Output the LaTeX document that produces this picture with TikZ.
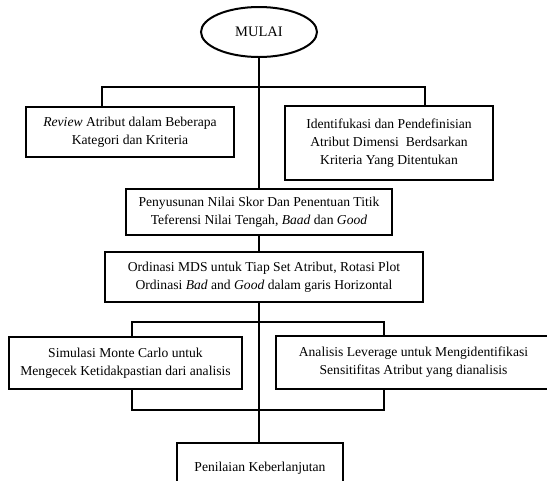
\documentclass[tikz,border=0pt]{standalone}
\usepackage{fontspec}
\setmainfont{Liberation Serif}
\usetikzlibrary{shapes.geometric,backgrounds}
\begin{document}
\begin{tikzpicture}[x=1pt,y=-1pt,
  box/.style={draw=black,line width=2pt,fill=white,inner sep=0pt,align=center,
    font=\fontsize{13.6}{18}\selectfont},
  conn/.style={draw=black,line width=2pt},
  oval/.style={ellipse,draw=black,line width=2pt,fill=white,inner sep=0pt,
    minimum width=116pt,minimum height=50pt,font=\fontsize{14.5}{18}\selectfont}]
\useasboundingbox (0,0) rectangle (547,480);
\node[oval] (mulai) at (259,32) {MULAI};
\node[box,minimum width=208pt,minimum height=50pt] (review) at (130,132)
  {\textit{Review} Atribut dalam Beberapa\\Kategori dan Kriteria};
\node[box,minimum width=208pt,minimum height=74pt] (ident) at (389,143)
  {Identifukasi dan Pendefinisian\\Atribut Dimensi\ \ Berdsarkan\\Kriteria Yang Ditentukan};
\node[box,minimum width=266pt,minimum height=46pt] (skor) at (259,212)
  {Penyusunan Nilai Skor Dan Penentuan Titik\\Teferensi Nilai Tengah, \textit{Baad} dan \textit{Good}};
\node[box,minimum width=318pt,minimum height=50pt] (mds) at (264,277)
  {Ordinasi MDS untuk Tiap Set Atribut, Rotasi Plot\\Ordinasi \textit{Bad} and \textit{Good} dalam garis Horizontal};
\node[box,minimum width=233pt,minimum height=52pt] (monte) at (125.5,363)
  {Simulasi Monte Carlo untuk\\Mengecek Ketidakpastian dari analisis};
\node[box,minimum width=275pt,minimum height=53pt] (lev) at (413.5,362.5)
  {Analisis Leverage untuk Mengidentifikasi\\Sensitifitas Atribut yang dianalisis};
\node[box,minimum width=166pt,minimum height=50pt] (nilai) at (260,468)
  {Penilaian Keberlanjutan};
\coordinate (busT) at (259,87);
\coordinate (busTL) at (102,87);
\coordinate (busTR) at (425,87);
\coordinate (busB1) at (132,322);
\coordinate (busB2) at (384,410);
\begin{scope}[on background layer]
  \draw[conn] (mulai.south) -- (mulai.south |- skor.north);
  \draw[conn] (review.north -| busTL) -- (busTL) -- (busTR) -- (ident.north -| busTR);
  \draw[conn] (skor.south -| mulai.south) -- (mds.north -| mulai.south);
  \draw[conn] (mds.south -| mulai.south) -- (nilai.north -| mulai.south);
  \draw[conn] (busB1) rectangle (busB2);
\end{scope}
\end{tikzpicture}
\end{document}
